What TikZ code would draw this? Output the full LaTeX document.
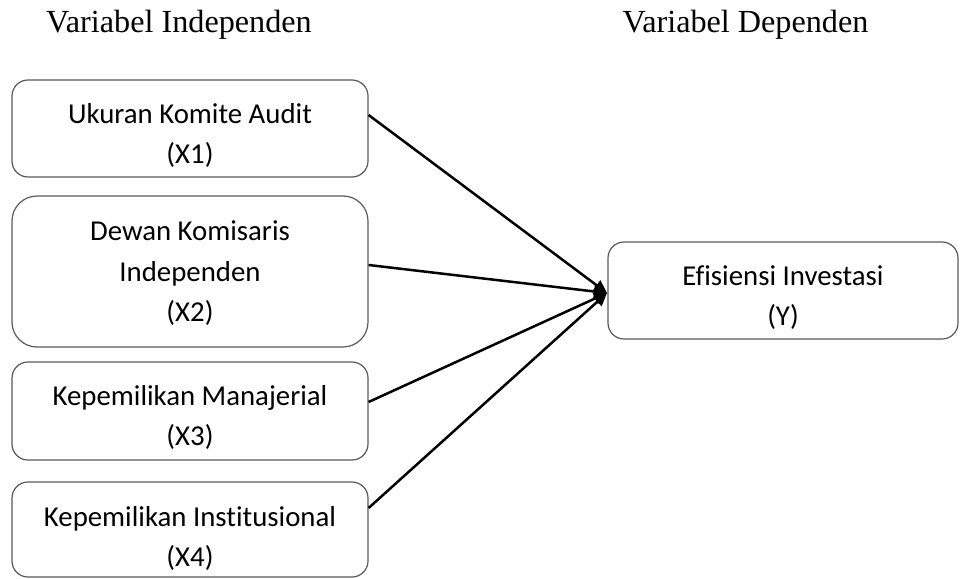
\documentclass[tikz,border=0pt]{standalone}
\usepackage{fontspec}
\setmainfont[Ligatures={NoCommon}]{Carlito}
\newfontfamily\titlefont{Liberation Serif}
\usetikzlibrary{arrows.meta}
\begin{document}
\begin{tikzpicture}[x=1pt,y=-1pt,
  box/.style={draw=black!65, line width=1.2pt, rounded corners=#1, inner sep=0pt, minimum width=356pt},
  box/.default=16pt,
  lbl/.style={align=center, inner sep=0pt, anchor=base, font=\fontsize{28.8}{40}\selectfont},
  ttl/.style={inner sep=0pt, anchor=base, font=\titlefont\fontsize{32.2}{38}\selectfont},
  conn/.style={line width=2.5pt, -{Triangle[length=13pt,width=12pt]}}
]
\useasboundingbox (0,0) rectangle (960,578);

% titles
\node[ttl] (tind) at (179,33) {Variabel Independen};
\node[ttl] (tdep) at (745.5,33) {Variabel Dependen};

% boxes
\node[box, minimum height=97pt] (x1) at (190,128.5) {};
\node[box=25pt, minimum height=151pt] (x2) at (190,271.5) {};
\node[box, minimum height=98pt] (x3) at (190,411) {};
\node[box, minimum height=95pt] (x4) at (190,529.5) {};
\node[box, minimum width=350pt, minimum height=97pt] (y) at (783,290.5) {};

% texts (base anchor = baseline of the last line)
\node[lbl] (x1t) at (190,163) {Ukuran Komite Audit\\(X1)};
\node[lbl, font=\fontsize{28.8}{40.5}\selectfont] (x2t) at (190,321.7) {Dewan Komisaris\\Independen\\(X2)};
\node[lbl] (x3t) at (190,445) {Kepemilikan Manajerial\\(X3)};
\node[lbl] (x4t) at (190,566) {Kepemilikan Institusional\\(X4)};
\node[lbl] (yt) at (783,325) {Efisiensi Investasi\\(Y)};

% connectors
\coordinate (tip) at (607,293);
\draw[conn] ([yshift=13.5pt]x1.east) -- (tip);
\draw[conn] ([yshift=6.5pt]x2.east) -- (tip);
\draw[conn] ([yshift=9pt]x3.east) -- (tip);
\draw[conn] ([yshift=21.5pt]x4.east) -- (tip);
\end{tikzpicture}
\end{document}
